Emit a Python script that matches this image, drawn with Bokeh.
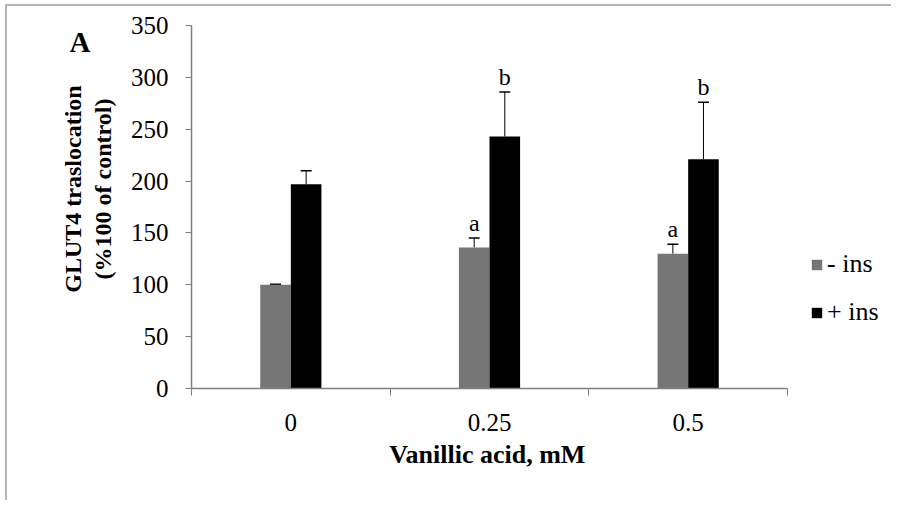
from bokeh.plotting import figure
from bokeh.models import (ColumnDataSource, Range1d, FixedTicker, Whisker, TeeHead,
                          Legend, LegendItem, LinearAxis)
from bokeh.core.properties import value
from bokeh.embed import file_html
from bokeh.resources import INLINE

# ---- data ----
categories = ["0", "0.25", "0.5"]
minus_ins = [100, 136, 130]
minus_err = [0.5, 9, 9]
plus_ins = [197, 243, 221]
plus_err = [13, 43, 55]
minus_sig = ["", "a", "a"]
plus_sig = ["", "b", "b"]
y_ticks = [0, 50, 100, 150, 200, 250, 300, 350]
panel_letter = "A"
x_title = "Vanillic acid, mM"
y_title = ["GLUT4 traslocation", "(%100 of control)"]

GRAY = "#767676"
AXIS = "#808080"
FONT = "Liberation Serif"
NB = "\u00a0"

W, H = 886, 496
LEFT, TOP, BOTTOM = 184, 19, 114
AXIS_LEN = 596.0            # pixel length of the category axis
frame_w = W - LEFT
x_end = len(categories) * frame_w / AXIS_LEN

centers = [i + 0.5 for i in range(len(categories))]
off = 0.077
bw = 0.154

src_m = ColumnDataSource(dict(x=[c - off for c in centers], top=minus_ins,
                              upper=[v + e for v, e in zip(minus_ins, minus_err)],
                              sig=minus_sig))
src_p = ColumnDataSource(dict(x=[c + off for c in centers], top=plus_ins,
                              upper=[v + e for v, e in zip(plus_ins, plus_err)],
                              sig=plus_sig))

p = figure(width=W, height=H, output_backend="svg", toolbar_location=None,
           x_range=Range1d(0, x_end), y_range=Range1d(0, 350),
           min_border_left=LEFT, min_border_right=0, min_border_top=TOP,
           min_border_bottom=BOTTOM)
p.margin = (4, 0, 0, 5)
p.styles = {"border-top": "2px solid #b4b4b4", "border-left": "2px solid #b4b4b4"}
p.outline_line_color = None
p.grid.grid_line_color = None
p.background_fill_color = "white"
p.border_fill_color = "white"

r_m = p.vbar(x="x", top="top", width=bw, source=src_m, fill_color=GRAY, line_color=None)
r_p = p.vbar(x="x", top="top", width=bw, source=src_p, fill_color="black", line_color=None)

for src in (src_m, src_p):
    w = Whisker(source=src, base="x", lower="top", upper="upper", dimension="height",
                line_color="black", line_width=1,
                upper_head=TeeHead(size=11, line_color="black", line_width=1.5),
                lower_head=None)
    p.add_layout(w)
    p.text(x="x", y="upper", text="sig", source=src, text_align="center",
           text_baseline="bottom", y_offset=-2, text_font=value(FONT),
           text_font_size="24px", text_color="black")

# x axis: labels at centres, tick marks at category boundaries
xa = p.xaxis[0]
xa.bounds = (0, len(categories))
xa.ticker = FixedTicker(ticks=centers, minor_ticks=list(range(len(categories) + 1)))
xa.major_label_overrides = {c: lab for c, lab in zip(centers, categories)}
xa.major_tick_line_color = None
xa.major_tick_out = 0
xa.major_tick_in = 0
xa.minor_tick_line_color = AXIS
xa.minor_tick_out = 7
xa.minor_tick_in = 0
xa.axis_line_color = AXIS
xa.axis_line_width = 1.5
xa.major_label_standoff = 18
xa.major_label_text_font = FONT
xa.major_label_text_font_size = "25px"
xa.major_label_text_color = "black"
# trailing no-break spaces keep the title centred under the category axis
xa.axis_label = x_title + NB * 17
xa.axis_label_text_font = FONT
xa.axis_label_text_font_style = "bold"
xa.axis_label_text_font_size = "26px"
xa.axis_label_text_color = "black"
xa.axis_label_standoff = 6

ya = p.yaxis[0]
ya.ticker = FixedTicker(ticks=y_ticks)
ya.minor_tick_line_color = None
ya.major_tick_line_color = AXIS
ya.major_tick_out = 6
ya.major_tick_in = 0
ya.axis_line_color = AXIS
ya.axis_line_width = 1.5
ya.major_label_standoff = 17
ya.major_label_text_font = FONT
ya.major_label_text_font_size = "25px"
ya.major_label_text_color = "black"
ya.axis_label = "\n".join(NB * 6 + s for s in y_title)
ya.axis_label_text_font = FONT
ya.axis_label_text_font_style = "bold"
ya.axis_label_text_font_size = "24px"
ya.axis_label_text_color = "black"
ya.axis_label_text_line_height = 1.15
ya.axis_label_standoff = 12

# panel letter "A" as the label of an otherwise invisible outer axis
a_axis = LinearAxis(ticker=FixedTicker(ticks=[]),
                    axis_line_color=None, major_tick_line_color=None,
                    minor_tick_line_color=None, major_label_text_font_size="0px",
                    axis_label="\n" + panel_letter, axis_label_text_font=FONT,
                    axis_label_text_font_style="bold", axis_label_text_font_size="29px",
                    axis_label_text_line_height=1.0,
                    axis_label_text_color="black", axis_label_standoff=-33)
for k, v in (("axis_label_orientation", "horizontal"), ("axis_label_align", "end")):
    try:
        setattr(a_axis, k, v)
    except Exception:
        pass
p.add_layout(a_axis, "left")

legend = Legend(items=[LegendItem(label="- ins", renderers=[r_m]),
                       LegendItem(label="+ ins", renderers=[r_p])],
                location=(619, 61), orientation="vertical",
                glyph_width=13, glyph_height=13, label_standoff=4, spacing=18,
                padding=0, margin=0, border_line_color=None,
                background_fill_alpha=0, label_text_font=FONT,
                label_text_font_size="26px", label_text_color="black")
p.add_layout(legend)

open("out.html", "w").write(file_html(p, INLINE))
